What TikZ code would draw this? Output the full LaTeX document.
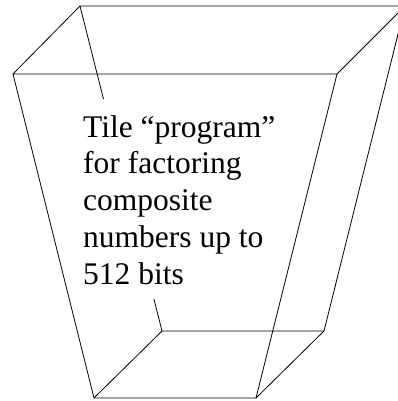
\documentclass[tikz,border=0pt]{standalone}
\usepackage{fontspec}
\setmainfont{Liberation Serif}
\usetikzlibrary{calc}
\begin{document}
\begin{tikzpicture}[x=1pt,y=-1pt,
  edge/.style={line width=0.8pt,black},
  label/.style={anchor=base west,inner sep=0pt,align=left,
    font=\fontsize{31.5}{36.75}\selectfont}]
\useasboundingbox (0,0) rectangle (398,401);
\clip (0,0) rectangle (398,401);
% front face
\coordinate (ftl) at (13,74);
\coordinate (ftr) at (337,74);
\coordinate (fbr) at (256,398);
\coordinate (fbl) at (94,398);
% back face
\coordinate (btl) at (80,6);
\coordinate (btr) at (405,6);
\coordinate (bbr) at (324,331);
\coordinate (bbl) at (162,331);
\draw[edge] (ftl) -- (ftr) -- (fbr) -- (fbl) -- cycle;
\draw[edge] (btl) -- (btr) -- (bbr) -- (bbl);
\draw[edge] (ftl) -- (btl);
\draw[edge] (ftr) -- (btr);
\draw[edge] (fbr) -- (bbr);
\draw[edge] (fbl) -- (bbl);
% back-left edge, interrupted behind the text
\coordinate (g1) at ($(btl)!0.286!(bbl)$);
\coordinate (g2) at ($(btl)!0.9015!(bbl)$);
\draw[edge] (btl) -- (g1);
\draw[edge] (g2) -- (bbl);
\node[label] (txt) at (83,284) {Tile “program”\\for factoring\\composite\\numbers up to\\512 bits};
\end{tikzpicture}
\end{document}
